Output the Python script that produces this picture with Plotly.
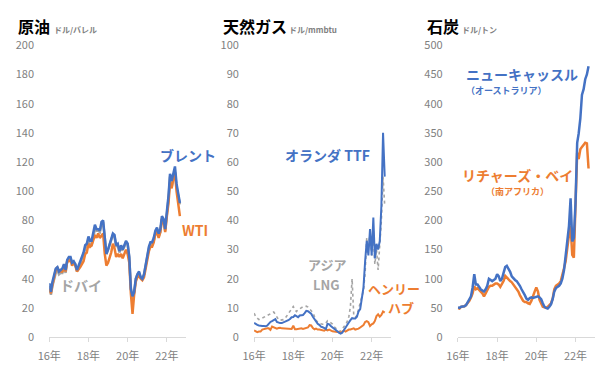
import pandas as pd
import plotly.graph_objects as go

W, H = 600, 369

# ---------------- data (monthly, Jan 2016 - Sep 2022) ----------------
months = pd.date_range("2016-01-01", "2022-09-01", freq="MS")

brent = [37, 31, 38, 42, 47, 48, 45, 46, 47, 50, 46, 53,
         55, 55, 51, 52, 50, 46, 49, 52, 56, 58, 63, 64,
         69, 66, 66, 72, 77, 74, 74, 73, 79, 80, 65, 57,
         60, 64, 66, 71, 70, 63, 64, 59, 63, 60, 63, 66,
         64, 55, 33, 28, 31, 40, 43, 45, 41, 40, 43, 50,
         55, 62, 65, 65, 68, 73, 75, 71, 74, 83, 81, 74,
         86, 97, 112, 107, 112, 117, 105, 98, 92]
wti = [33, 30, 36, 41, 46, 48, 45, 45, 45, 49, 45, 52,
       52, 53, 49, 51, 49, 45, 47, 48, 50, 52, 57, 58,
       64, 62, 63, 66, 70, 68, 71, 68, 70, 71, 57, 49,
       51, 55, 58, 64, 61, 55, 57, 55, 57, 54, 57, 60,
       57, 51, 30, 16, 29, 38, 41, 42, 40, 39, 41, 47,
       52, 59, 62, 62, 65, 71, 72, 68, 72, 81, 79, 72,
       83, 92, 106, 102, 109, 113, 100, 92, 83]
dubai = [35, 29, 35, 39, 44, 46, 43, 44, 44, 48, 44, 52,
         54, 54, 51, 51, 50, 45, 47, 50, 54, 56, 61, 62,
         67, 63, 63, 69, 74, 73, 73, 72, 77, 79, 66, 57,
         60, 64, 66, 70, 69, 62, 63, 58, 61, 60, 62, 65,
         64, 54, 34, 26, 30, 40, 43, 44, 41, 40, 43, 49,
         54, 61, 64, 63, 66, 71, 72, 69, 72, 81, 80, 73,
         84, 95, 110, 103, 108, 113, 103, 96, 91]

ttf = [4.9, 4.4, 4.2, 4.0, 3.8, 3.8, 3.8, 3.7, 3.9, 4.6, 5.2, 5.5,
       6.0, 6.2, 5.2, 4.9, 4.8, 4.8, 5.0, 5.2, 5.6, 5.8, 6.2, 6.8,
       6.9, 7.5, 7.2, 6.8, 7.4, 7.6, 7.6, 8.2, 9.0, 8.9, 8.3, 8.0,
       7.0, 6.0, 5.2, 4.6, 4.2, 3.6, 3.4, 3.0, 2.8, 4.6, 4.4, 3.8,
       3.4, 2.9, 2.6, 2.0, 1.5, 1.2, 1.5, 2.5, 3.4, 4.2, 5.0, 5.8,
       6.5, 6.4, 6.4, 7.0, 8.8, 9.6, 13.0, 17.0, 26.0, 33.0, 28.0, 37.0,
       28.0, 41.0, 27.0, 32.0, 30.0, 33.0, 45.0, 70.0, 55.0]
lng = [8.2, 7.0, 6.5, 6.0, 6.2, 6.5, 6.8, 7.0, 7.2, 7.6, 8.0, 8.4,
       8.6, 7.8, 6.8, 6.0, 5.8, 5.8, 6.0, 6.4, 7.2, 7.8, 8.6, 9.6,
       10.5, 9.4, 8.8, 9.4, 9.8, 10.2, 10.4, 10.4, 10.6, 10.3, 9.6, 9.0,
       8.4, 7.0, 5.8, 5.2, 4.8, 4.6, 4.4, 4.4, 4.8, 5.6, 5.4, 5.0,
       4.5, 3.6, 3.1, 2.3, 2.0, 2.1, 2.5, 3.6, 4.2, 5.3, 7.0, 10.5,
       20.0, 7.5, 6.8, 7.4, 9.5, 11.5, 13.5, 16.0, 22.0, 34.0, 30.0, 36.0,
       28.0, 37.0, 25.0, 30.0, 23.0, 33.0, 40.0, 55.0, 45.0]
henry_hub = [2.3, 2.0, 1.7, 1.9, 1.9, 2.6, 2.8, 2.8, 3.0, 3.0, 2.5, 3.6,
             3.3, 2.9, 2.9, 3.1, 3.2, 3.0, 3.0, 2.9, 2.9, 2.9, 3.0, 2.8,
             3.9, 2.7, 2.7, 2.8, 2.8, 3.0, 2.8, 2.9, 3.0, 3.3, 4.1, 4.0,
             3.1, 2.7, 2.9, 2.6, 2.6, 2.4, 2.4, 2.2, 2.6, 2.3, 2.6, 2.2,
             2.0, 1.9, 1.8, 1.7, 1.7, 1.6, 1.8, 2.3, 1.9, 2.4, 2.6, 2.6,
             2.7, 3.0, 2.6, 2.7, 2.9, 3.3, 3.8, 4.1, 5.2, 5.5, 5.1, 3.8,
             4.4, 4.7, 5.5, 7.2, 7.8, 7.0, 7.6, 8.8, 8.4]

newcastle = [51, 50, 52, 52, 53, 55, 60, 66, 70, 85, 108, 90,
             90, 86, 82, 80, 78, 82, 88, 100, 98, 96, 98, 100,
             108, 104, 96, 100, 110, 120, 122, 118, 112, 104, 100, 98,
             96, 92, 88, 82, 78, 72, 66, 64, 67, 68, 67, 68,
             70, 70, 68, 65, 58, 52, 50, 49, 52, 56, 65, 78,
             84, 86, 88, 92, 100, 115, 136, 165, 190, 238, 164, 170,
             230, 333, 349, 375, 415, 425, 442, 450, 464]
richards_bay = [50, 49, 52, 52, 53, 55, 58, 62, 68, 75, 87, 82,
                84, 80, 78, 75, 70, 75, 82, 86, 88, 88, 90, 92,
                92, 90, 86, 90, 96, 105, 102, 98, 96, 94, 90, 86,
                82, 78, 72, 66, 62, 60, 60, 58, 57, 62, 72, 78,
                85, 78, 64, 56, 52, 51, 50, 52, 55, 58, 66, 82,
                88, 90, 92, 96, 105, 118, 130, 158, 175, 191, 141, 136,
                251, 316, 305, 322, 326, 330, 333, 332, 289]

tick_dates = ["2016-01-01", "2018-01-01", "2020-01-01", "2022-01-01"]
tick_text = ["16年", "18年", "20年", "22年"]

BLUE = "#4472C4"
ORANGE = "#ED7D31"
GRAY = "#A5A5A5"
TXT = "#7f7f7f"
FONT = "Noto Sans CJK JP"

fig = go.Figure()

# oil
fig.add_trace(go.Scatter(x=months, y=dubai, mode="lines", line=dict(color=GRAY, width=2.5), xaxis="x", yaxis="y"))
fig.add_trace(go.Scatter(x=months, y=wti, mode="lines", line=dict(color=ORANGE, width=2.5), xaxis="x", yaxis="y"))
fig.add_trace(go.Scatter(x=months, y=brent, mode="lines", line=dict(color=BLUE, width=2.5), xaxis="x", yaxis="y"))
# gas
fig.add_trace(go.Scatter(x=months, y=lng, mode="lines", line=dict(color=GRAY, width=1.6, dash="dot"), xaxis="x2", yaxis="y2"))
fig.add_trace(go.Scatter(x=months, y=henry_hub, mode="lines", line=dict(color=ORANGE, width=2), xaxis="x2", yaxis="y2"))
fig.add_trace(go.Scatter(x=months, y=ttf, mode="lines", line=dict(color=BLUE, width=2), xaxis="x2", yaxis="y2"))
# coal
fig.add_trace(go.Scatter(x=months, y=richards_bay, mode="lines", line=dict(color=ORANGE, width=2.5), xaxis="x3", yaxis="y3"))
fig.add_trace(go.Scatter(x=months, y=newcastle, mode="lines", line=dict(color=BLUE, width=2.5), xaxis="x3", yaxis="y3"))

ydom = [(H - 343) / H, (H - 38) / H]
panels = [((38, 178), 200, 20), ((247, 387), 100, 10), ((455, 595), 500, 50)]

layout = dict(
    width=W, height=H,
    margin=dict(l=0, r=0, t=0, b=0),
    paper_bgcolor="white", plot_bgcolor="white",
    showlegend=False,
    font=dict(family=FONT, color=TXT, size=11),
)
for i, ((x0, x1), ymax, dt) in enumerate(panels):
    sx = "" if i == 0 else str(i + 1)
    layout["xaxis" + sx] = dict(
        domain=[x0 / W, x1 / W], anchor="y" + sx,
        range=["2016-01-01", "2023-01-01"], type="date",
        tickvals=tick_dates, ticktext=tick_text,
        showgrid=False, zeroline=False,
        showline=True, linecolor="#d9d9d9", linewidth=1,
        ticks="outside", ticklen=4, tickcolor="#d9d9d9",
        ticklabelstandoff=5,
        tickfont=dict(size=11, color=TXT, family=FONT),
        fixedrange=True,
    )
    layout["yaxis" + sx] = dict(
        domain=ydom, anchor="x" + sx,
        range=[0, ymax], dtick=dt, tick0=0,
        showgrid=False, zeroline=False, showline=False,
        ticks="outside", ticklen=12, tickcolor="rgba(0,0,0,0)",
        tickfont=dict(size=11, color=TXT, family=FONT),
        fixedrange=True,
    )
fig.update_layout(**layout)


def ann(text, px, py, color, size, xanchor="left", align="left"):
    fig.add_annotation(
        text=text,
        x=px / W, y=1 - py / H, xref="paper", yref="paper",
        xanchor=xanchor, yanchor="middle", align=align, showarrow=False,
        font=dict(color=color, size=size, family=FONT),
    )


def two_line(main, sub, main_size, sub_size):
    return (f"<b><span style='font-size:{main_size}px'>{main}</span></b><br>"
            f"<b><span style='font-size:{sub_size}px'>{sub}</span></b>")


# titles
ann("<b>原油</b>", 4, 18, "#000000", 16)
ann("<b>ドル/バレル</b>", 41, 21, TXT, 8)
ann("<b>天然ガス</b>", 213, 18, "#000000", 16)
ann("<b>ドル/mmbtu</b>", 281, 21, TXT, 8)
ann("<b>石炭</b>", 421, 18, "#000000", 16)
ann("<b>ドル/トン</b>", 457, 21, TXT, 8)

# series labels
ann("<b>ブレント</b>", 149, 153, BLUE, 14)
ann("<b>WTI</b>", 171, 231, ORANGE, 14)
ann("<b>ドバイ</b>", 47, 288, GRAY, 14)
ann("<b>オランダ TTF</b>", 277, 153, BLUE, 14)
ann("<b>アジア</b>", 321, 267, GRAY, 13, xanchor="center")
ann("<b>LNG</b>", 321, 288, GRAY, 13, xanchor="center")
ann("<b>ヘンリー</b>", 361, 292, ORANGE, 13)
ann("<b>ハブ</b>", 397, 312, ORANGE, 13, xanchor="center")
ann(two_line("ニューキャッスル", "（オーストラリア）", 14, 9), 461, 75, BLUE, 11)
ann(two_line("リチャーズ・ベイ", "（南アフリカ）", 14, 9), 516, 180, ORANGE, 11,
    xanchor="center", align="center")

fig.write_html("out.html")
